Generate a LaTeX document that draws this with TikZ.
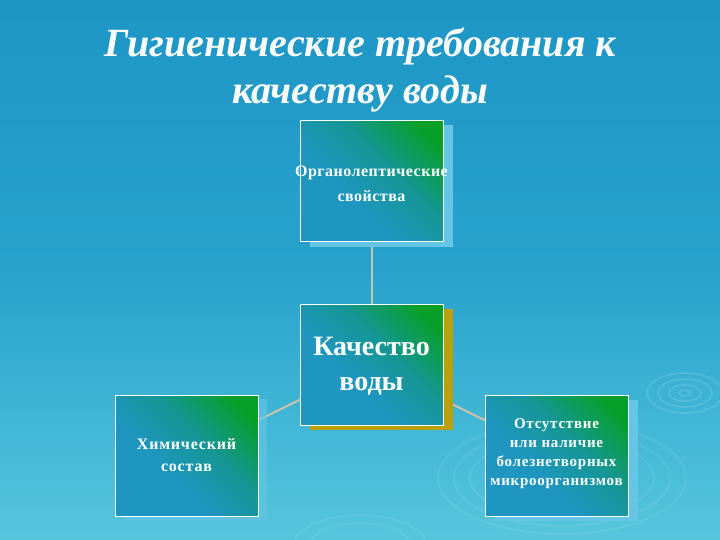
\documentclass[tikz,border=0pt]{standalone}
\usepackage{fontspec}
\setmainfont{Liberation Serif}
\usetikzlibrary{shadows,backgrounds}
\definecolor{bgtop}{RGB}{30,150,198}
\definecolor{bgmid}{RGB}{40,162,205}
\definecolor{bgbot}{RGB}{85,198,220}
\definecolor{boxblue}{RGB}{30,150,192}
\definecolor{boxteal}{RGB}{22,150,150}
\definecolor{boxgreen}{RGB}{6,160,40}
\definecolor{gold}{RGB}{185,160,15}
\definecolor{shblue}{RGB}{100,198,228}
\definecolor{conn}{RGB}{205,195,170}
\pgfdeclareverticalshading{boxsh}{100bp}{color(0bp)=(boxblue); color(40bp)=(boxblue); color(58bp)=(boxteal); color(78bp)=(boxgreen); color(100bp)=(boxgreen)}
\tikzset{
  box/.style={draw=white, line width=0.9pt, minimum width=143pt, minimum height=121pt,
    inner sep=0pt, shade, shading=boxsh, shading angle=-45},
  boxlabel/.style={text=white, align=center, inner sep=0pt},
  goldshadow/.style={drop shadow={shadow xshift=10pt, shadow yshift=-5pt, fill=gold, opacity=1}},
  blueshadow/.style={drop shadow={shadow xshift=10pt, shadow yshift=-5pt, fill=shblue, opacity=1}},
  faintshadow/.style={drop shadow={shadow xshift=9pt, shadow yshift=-4pt, fill=shblue, opacity=0.6}},
  connector/.style={draw=conn, line width=2pt},
  ripple/.style={draw=white, opacity=0.07, line width=2.2pt},
  titletext/.style={font=\fontsize{40}{48}\selectfont\bfseries\itshape, anchor=base, inner sep=0pt},
}
\begin{document}
\begin{tikzpicture}[x=1pt, y=-1pt]
\useasboundingbox (0,0) rectangle (720,540);
\begin{pgfonlayer}{background}
% background
\shade[top color=bgtop, bottom color=bgbot, middle color=bgmid] (0,0) rectangle (720,540);
% ripples
\foreach \rx/\ry in {6/3, 16/8, 27/14, 38/20} {
  \draw[ripple, line width=1.6pt, opacity=0.13] (685,393) ellipse [x radius=\rx, y radius=\ry];
}
\foreach \rx/\ry in {92/40, 108/48, 124/56} {
  \draw[ripple] (562,478) ellipse [x radius=\rx, y radius=\ry];
}
\foreach \rx/\ry in {50/22, 66/30} {
  \draw[ripple, opacity=0.06] (360,545) ellipse [x radius=\rx, y radius=\ry];
}
\end{pgfonlayer}
% title
\node[titletext, text=white] (t1) at (360,57) {Гигиенические требования к};
\node[titletext, text=white] (t2) at (360,104) {качеству воды};
% boxes
\node[box, blueshadow] (org) at (371.5,181) {};
\node[box, goldshadow] (q) at (371.5,364.5) {};
\node[box, faintshadow] (chem) at (186.5,455.5) {};
\node[box, blueshadow] (micro) at (556.5,455.5) {};
% labels
\node[boxlabel, font=\fontsize{16}{25}\selectfont\bfseries\addfontfeature{LetterSpace=3}] (orgtext) at ([yshift=-3pt]org.center)
  {Органолептические\\свойства};
\node[boxlabel, font=\fontsize{28}{35}\selectfont\bfseries] (qtext) at ([yshift=-2pt]q.center)
  {Качество\\воды};
\node[boxlabel, font=\fontsize{16}{22}\selectfont\bfseries\addfontfeature{LetterSpace=5}] (chemtext) at (chem.center)
  {Химический\\состав};
\node[boxlabel, font=\fontsize{15}{19}\selectfont\bfseries\addfontfeature{LetterSpace=5}] (microtext) at ([yshift=2pt]micro.center)
  {Отсутствие\\или наличие\\болезнетворных\\микроорганизмов};
% connectors
\begin{pgfonlayer}{background}
  \draw[connector] (q.center) -- (org.center);
  \draw[connector] (q.center) -- (chem.center);
  \draw[connector] (q.center) -- (micro.center);
\end{pgfonlayer}
\end{tikzpicture}
\end{document}
